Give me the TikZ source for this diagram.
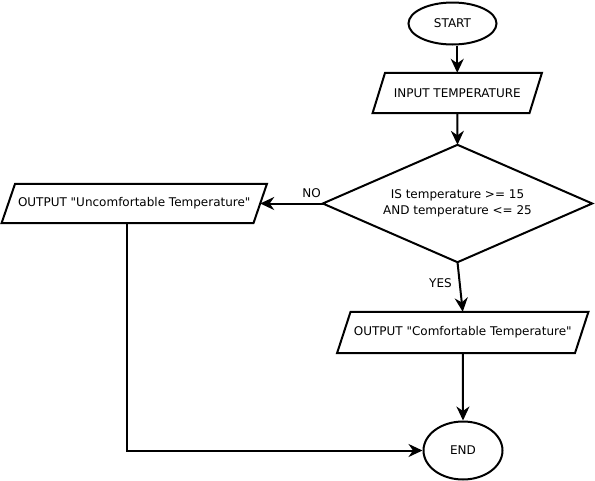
\documentclass[tikz,border=0pt]{standalone}
\usepackage{fontspec}
\setmainfont{DejaVu Sans}[Ligatures=TeXOff]
\usetikzlibrary{shapes.geometric,arrows.meta}
\begin{document}
\begin{tikzpicture}[x=1pt,y=-1pt,
  every node/.style={font=\fontsize{12}{16.5}\selectfont},
  term/.style={ellipse,draw,line width=2pt,inner sep=0pt},
  iobox/.style={draw=none,inner sep=0pt,align=center},
  lbl/.style={inner sep=1pt},
  arr/.style={line width=2pt,-{Stealth[length=14pt,width=13pt,inset=4.5pt]}},
  shapeline/.style={line width=2pt,line join=miter}]
\useasboundingbox (0,0) rectangle (595,480);

\node[term,minimum width=88pt,minimum height=42pt] (start) at (452.5,23.5) {START};
\node[iobox,minimum width=156.5pt,minimum height=40pt] (inp) at (457.25,93) {INPUT TEMPERATURE};
\node[iobox,minimum width=269pt,minimum height=117pt] (dec) at (457.5,203.5) {IS temperature >= 15\\ AND temperature <= 25};
\node[iobox,minimum width=251.5pt,minimum height=39pt] (unc) at (134.25,203.5) {OUTPUT "Uncomfortable Temperature"};
\node[iobox,minimum width=237.5pt,minimum height=41pt] (com) at (462.75,332.5) {OUTPUT "Comfortable Temperature"};
\node[term,minimum width=79pt,minimum height=58pt] (end) at (463,450.5) {END};

\draw[shapeline] (dec.north) -- (dec.east) -- (dec.south) -- (dec.west) -- cycle;
\foreach \n/\s in {inp/6.25,unc/6.75,com/6.75}{
  \draw[shapeline] ([xshift=-\s pt]\n.south west) -- ([xshift=\s pt]\n.north west)
     -- ([xshift=\s pt]\n.north east) -- ([xshift=-\s pt]\n.south east) -- cycle;
}

\draw[arr] (inp.north |- start.south) -- (inp.north);
\draw[arr] (inp.south) -- (dec.north);
\draw[arr] (dec.west) -- (unc.east) node[lbl,pos=0.18,above=4pt] {NO};
\draw[arr] (dec.south) -- (com.north) node[lbl,pos=0.42,left=6pt] {YES};
\draw[arr] (com.south) -- (end.north);
\draw[arr] ([xshift=-7.25pt]unc.south) |- (end.west);
\end{tikzpicture}
\end{document}
